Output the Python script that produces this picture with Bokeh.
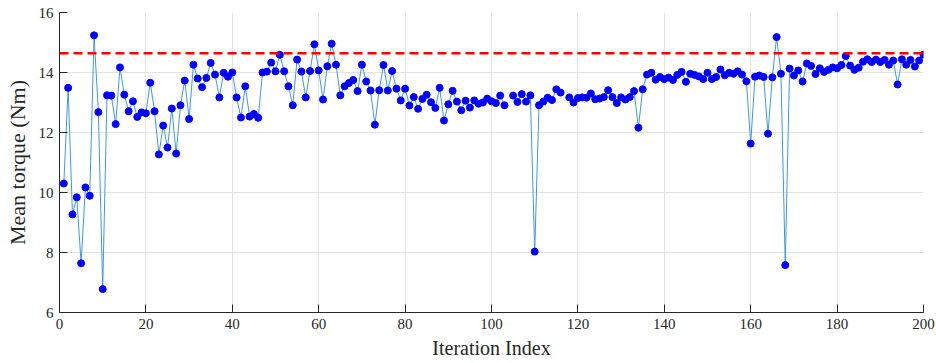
import numpy as np
from bokeh.plotting import figure
from bokeh.models import Span, FixedTicker, Range1d
from bokeh.embed import file_html
from bokeh.resources import INLINE

nan = float("nan")

iterations = list(range(1, 201))
mean_torque = [
    10.30, 13.49, 9.27, 9.84, 7.64, 10.17, 9.89, 15.24, 12.68, 6.78,
    13.24, 13.23, 12.28, 14.17, 13.26, 12.71, 13.04, 12.52, 12.67, 12.64,
    13.66, 12.71, 11.27, 12.23, 11.50, 12.80, 11.30, 12.91, 13.73, 12.45,
    14.26, 13.80, 13.51, 13.82, 14.32, 13.93, 13.17, 13.99, 13.86, 14.00,
    13.17, 12.50, 13.54, 12.53, 12.62, 12.49, 14.00, 14.03, 14.33, 14.04,
    14.59, 14.04, 13.54, 12.91, 14.43, 14.03, 13.17, 14.05, 14.94, 14.07,
    13.10, 14.21, 14.96, 14.26, 13.24, 13.54, 13.65, 13.75, 13.38, 14.26,
    13.70, 13.40, 12.26, 13.41, 14.25, 13.40, 14.05, 13.46, 13.07, 13.46,
    12.90, 13.18, 12.79, 13.12, 13.26, 13.01, 12.82, 13.49, 12.40, 12.94,
    13.39, 13.03, 12.74, 13.06, 12.83, 13.07, 12.96, 13.00, 13.13, 13.04,
    12.98, 13.23, 12.91, nan, 13.23, 13.02, 13.28, 13.03, 13.24, 8.03,
    12.91, 13.03, 13.16, 13.08, 13.44, 13.33, nan, 13.17, 13.00, 13.15,
    13.17, 13.16, 13.30, 13.11, 13.13, 13.18, 13.41, 13.18, 12.98, 13.17,
    13.10, 13.18, 13.38, 12.16, 13.44, 13.93, 13.99, 13.76, 13.85, 13.78,
    13.83, 13.75, 13.92, 14.02, 13.69, 13.96, 13.92, 13.87, 13.78, 13.99,
    13.78, 13.85, 14.10, 13.91, 13.99, 13.96, 14.04, 13.93, 13.71, 11.63,
    13.86, 13.90, 13.85, 11.96, 13.84, 15.18, 13.96, 7.58, 14.13, 13.90,
    14.07, 13.70, 14.30, 14.22, 13.95, 14.14, 14.02, 14.09, 14.17, 14.14,
    14.25, 14.55, 14.23, 14.09, 14.16, 14.36, 14.44, 14.35, 14.43, 14.35,
    14.42, 14.26, 14.40, 13.60, 14.44, 14.26, 14.42, 14.20, 14.40, 14.60,
]
reference_torque = 14.64

x_ticks = [0, 20, 40, 60, 80, 100, 120, 140, 160, 180, 200]
y_ticks = [6, 8, 10, 12, 14, 16]

FONT = "Liberation Serif"

p = figure(width=936, height=363, output_backend="svg", toolbar_location=None,
           x_range=Range1d(0, 200), y_range=Range1d(6, 16),
           min_border_left=59, min_border_right=13, min_border_top=12,
           min_border_bottom=51)
p.outline_line_color = None
p.background_fill_color = "white"
p.border_fill_color = "white"

p.line(iterations, mean_torque, line_color="#3f9ad6", line_width=1)
p.scatter(iterations, mean_torque, size=7, fill_color="#0000ff",
          line_color="#0000ff")

span = Span(location=reference_torque, dimension="width", line_color="#ff0000",
            line_width=2.5, line_dash="9 5")
p.add_layout(span)

for ax in (p.xaxis, p.yaxis):
    ax.axis_line_color = "#262626"
    ax.major_tick_line_color = "#262626"
    ax.major_tick_in = 8
    ax.major_tick_out = 0
    ax.minor_tick_line_color = None
    ax.major_label_text_font = FONT
    ax.major_label_text_font_size = "15px"
    ax.major_label_text_color = "#262626"
    ax.axis_label_text_font = FONT
    ax.axis_label_text_font_style = "normal"
    ax.axis_label_text_color = "#262626"

p.xaxis.axis_label_text_font_size = "20px"
p.yaxis.axis_label_text_font_size = "22px"
p.xaxis.ticker = FixedTicker(ticks=x_ticks)
p.yaxis.ticker = FixedTicker(ticks=y_ticks)
p.xaxis.axis_label = "Iteration Index"
p.yaxis.axis_label = "Mean torque (Nm)"
p.xaxis.major_label_standoff = 6
p.yaxis.major_label_standoff = 6
p.xaxis.axis_label_standoff = 5
p.yaxis.axis_label_standoff = 6

p.xgrid.ticker = FixedTicker(ticks=x_ticks)
p.ygrid.ticker = FixedTicker(ticks=y_ticks)
p.grid.grid_line_color = "#e3e3e3"
p.grid.grid_line_width = 1

open("out.html", "w").write(file_html(p, INLINE))
